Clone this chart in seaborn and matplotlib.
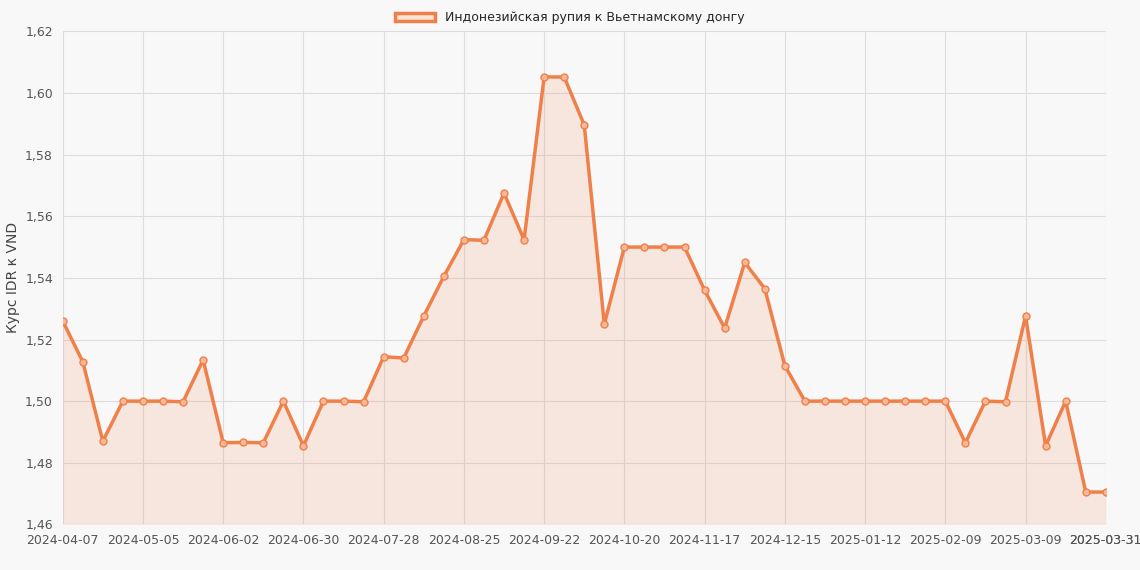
import numpy as np
import pandas as pd
import seaborn as sns
import matplotlib.pyplot as plt

dates = [d.strftime("%Y-%m-%d") for d in pd.date_range("2024-04-07", periods=53, freq="7D")]
dates[-1] = "2025-03-31"
rates = [1.526, 1.5128, 1.487, 1.500, 1.500, 1.500, 1.4998, 1.5134, 1.4865, 1.4866,
         1.4865, 1.500, 1.4855, 1.500, 1.500, 1.4998, 1.5144, 1.514, 1.5276, 1.5405,
         1.5524, 1.5522, 1.5675, 1.5524, 1.6052, 1.6052, 1.5896, 1.525, 1.550, 1.550,
         1.550, 1.550, 1.536, 1.5237, 1.545, 1.5365, 1.5115, 1.500, 1.500, 1.500,
         1.500, 1.500, 1.500, 1.500, 1.500, 1.4865, 1.500, 1.4998, 1.5276, 1.4855,
         1.500, 1.4705, 1.4705]
df = pd.DataFrame({"date": dates, "rate": rates, "i": range(len(dates))})

sns.set_style("whitegrid")
plt.rcParams['font.family'] = ['DejaVu Sans']
c = "#f0804a"
fig, ax = plt.subplots(figsize=(11.4, 5.7), dpi=100)
fig.patch.set_facecolor("#f8f8f8")
ax.set_facecolor("#f8f8f8")
ax.fill_between(df["i"], df["rate"], 1.46, color=c, alpha=0.15, lw=0)
sns.lineplot(data=df, x="i", y="rate", ax=ax, color=c, lw=2.5, marker="o",
             markersize=5, markerfacecolor="#f6b896", markeredgecolor=c, markeredgewidth=1)
ticks = list(range(0, 53, 4)) + [52]
ax.set_xticks(ticks)
ax.set_xticklabels([dates[t] for t in ticks], fontsize=9, color="#555")
ax.set_xlim(0, 52)
ax.set_ylim(1.46, 1.62)
yt = np.arange(1.46, 1.6201, 0.02)
ax.set_yticks(yt)
ax.set_yticklabels([f"{v:.2f}".replace(".", ",") for v in yt], fontsize=9, color="#555")
ax.grid(color="#dddddd", lw=0.8)
for s in ax.spines.values():
    s.set_visible(False)
ax.set_xlabel("")
ax.set_ylabel("Курс IDR к VND", fontsize=10, color="#444")
from matplotlib.patches import Patch
fig.legend(handles=[Patch(facecolor="#fbe3d6", edgecolor=c, lw=2.5)],
           labels=["Индонезийская рупия к Вьетнамскому донгу"], loc="upper center",
           frameon=False, fontsize=9, bbox_to_anchor=(0.5, 1.0), handlelength=3.2)
plt.subplots_adjust(left=0.055, right=0.97, top=0.945, bottom=0.08)
fig.savefig("out.png", facecolor=fig.get_facecolor())
